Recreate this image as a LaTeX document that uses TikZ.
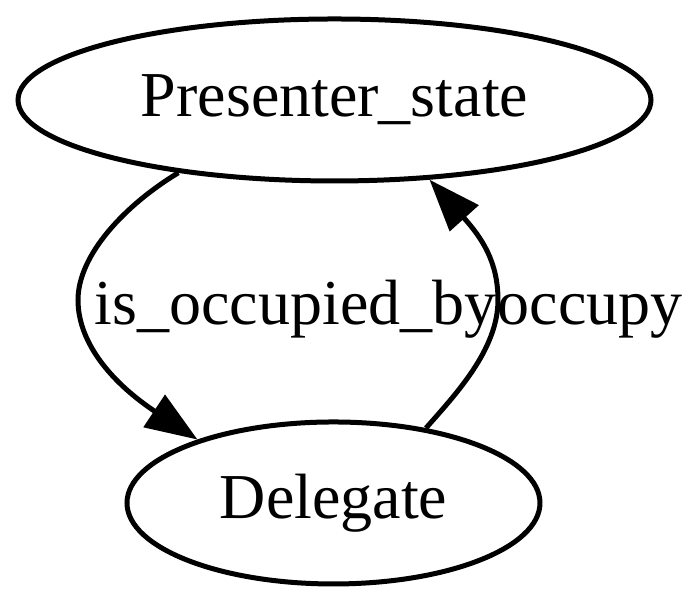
\documentclass[tikz,border=0pt]{standalone}
\usepackage{fontspec}
\setmainfont{Liberation Serif}
\usetikzlibrary{shapes.geometric, arrows.meta}

\begin{document}
\begin{tikzpicture}[
  x=0.25pt, y=0.25pt,
  state/.style={ellipse, draw, line width=1.25pt, inner sep=0pt,
                minimum height=40.5pt},
  lbl/.style={anchor=base west, inner sep=0pt},
  edge/.style={-{Triangle[length=13pt, width=9.5pt]}, line width=1.25pt},
  font=\fontsize{16pt}{19pt}\selectfont
]
  \useasboundingbox (0,0) rectangle (700,-605);

  %% States
  \node[state, minimum width=158.25pt] (presenter) at (334.5,-100) {Presenter\_state};
  \node[state, minimum width=103.25pt] (delegate)  at (333.5,-503) {Delegate};

  %% Edges
  \draw[edge] (presenter.205) .. controls (125,-205) and (78,-255) .. (78,-300)
              .. controls (78,-345) and (115,-385) .. (delegate.155);
  \draw[edge] (delegate.39) .. controls (455,-395) and (498,-350) .. (498,-300)
              .. controls (498,-262) and (482,-238) .. (presenter.320);

  %% Edge labels
  \node[lbl] (isocc) at (94,-325)  {is\_occupied\_by};
  \node[lbl] (occ)   at (497,-325) {occupy};
\end{tikzpicture}
\end{document}
